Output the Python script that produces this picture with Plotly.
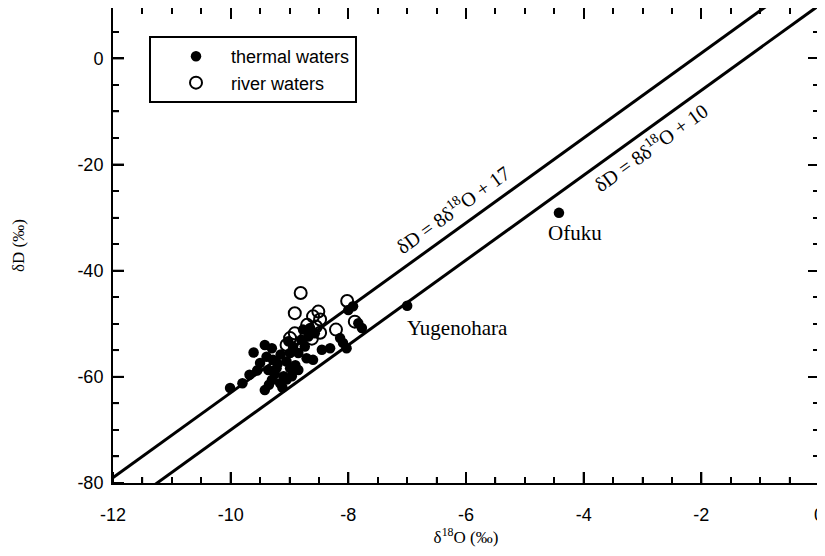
import plotly.graph_objects as go

# thermal waters (filled)
thermal_x = [-10.01, -9.80, -9.68, -9.61, -9.50, -9.42, -9.30, -9.39, -9.28, -9.36,
             -9.22, -9.30, -9.42, -9.16, -9.10, -9.05, -8.99, -8.94, -8.85, -8.74,
             -8.68, -8.65, -8.57, -8.71, -8.60, -8.85, -8.96, -8.99, -8.45, -8.31,
             -8.14, -8.09, -8.03, -8.00, -7.92, -7.83, -7.77, -8.77, -9.02, -9.20,
             -9.12, -9.25, -9.35, -9.05, -8.90, -9.55, -9.15, -8.80,
             -7.00, -4.42]
thermal_y = [-62.1, -61.2, -59.6, -55.4, -57.4, -54.0, -54.6, -56.2, -56.8, -58.7,
             -58.4, -60.6, -62.5, -61.2, -59.9, -57.1, -55.5, -54.3, -55.5, -54.3,
             -52.4, -50.8, -51.8, -56.5, -56.8, -58.7, -59.9, -58.4, -54.9, -54.6,
             -52.7, -53.6, -54.6, -47.4, -46.7, -49.9, -50.8, -51.1, -53.3, -57.5,
             -62.0, -59.5, -61.5, -60.5, -57.8, -58.8, -55.8, -53.0,
             -46.6, -29.1]

# river waters (open)
river_x = [-8.81, -8.91, -8.02, -8.51, -8.60, -8.48, -8.91, -8.99, -8.21, -7.89,
           -8.48, -8.55, -9.05, -8.70, -8.62]
river_y = [-44.2, -48.0, -45.7, -47.7, -48.6, -49.2, -51.8, -52.7, -51.1, -49.6,
           -51.7, -50.5, -54.0, -50.2, -52.8]

# meteoric water lines: dD = slope * d18O + intercept
line_slopes = [8, 8]
line_intercepts = [17, 10]
line_labels = ["δD = 8δ<sup>18</sup>O + 17", "δD = 8δ<sup>18</sup>O + 10"]
line_label_pos = [(-6.24, -28.3), (-2.88, -16.6)]

# named points
site_names = ["Yugenohara", "Ofuku"]
site_label_pos = [(-6.15, -50.8), (-4.15, -32.8)]

x_range = [-12, 0]
y_range = [-80, 9.5]
x_tickvals = [-12, -10, -8, -6, -4, -2, 0]
x_ticktext = ["-12", "-10", "-8", "-6", "-4", "-2", "0"]
y_tickvals = [-80, -60, -40, -20, 0]
y_ticktext = ["-80", "-60", "-40", "-20", "0"]
x_minor_step = 0.5
y_minor_step = 5

fig = go.Figure()

for s, b in zip(line_slopes, line_intercepts):
    xs = [-12.5, 0.5]
    fig.add_trace(go.Scatter(x=xs, y=[s * v + b for v in xs], mode="lines",
                             line=dict(color="black", width=3), showlegend=False,
                             hoverinfo="skip"))

fig.add_trace(go.Scatter(x=thermal_x, y=thermal_y, mode="markers", name="thermal waters",
                         marker=dict(symbol="circle", size=10.5, color="black")))
fig.add_trace(go.Scatter(x=river_x, y=river_y, mode="markers", name="river waters",
                         marker=dict(symbol="circle-open", size=12, color="black",
                                     line=dict(width=2, color="black"))))

serif = "Liberation Serif, Times New Roman, serif"
sans = "Liberation Sans, Arial, sans-serif"

for txt, (ax, ay) in zip(line_labels, line_label_pos):
    fig.add_annotation(x=ax, y=ay, text=txt, showarrow=False, textangle=-35.8,
                       font=dict(family=serif, size=20, color="black"))

for txt, (ax, ay) in zip(site_names, site_label_pos):
    fig.add_annotation(x=ax, y=ay, text=txt, showarrow=False,
                       font=dict(family=serif, size=21, color="black"))

axis_common = dict(showline=True, linewidth=2, linecolor="black", mirror="allticks",
                   ticks="inside", ticklen=11, tickwidth=2, tickcolor="#000000",
                   showgrid=False, zeroline=False, automargin=False,
                   tickfont=dict(family=sans, size=18, color="black"))
x_minor = dict(dtick=x_minor_step, tick0=0, ticks="inside", ticklen=6, tickwidth=1.5,
               tickcolor="#000000")
y_minor = dict(dtick=y_minor_step, tick0=0, ticks="inside", ticklen=6, tickwidth=1.5,
               tickcolor="#000000")

fig.update_layout(
    xaxis=dict(range=x_range, tickvals=x_tickvals, ticktext=x_ticktext,
               ticklabelstandoff=14, minor=x_minor,
               title=dict(text="δ<sup>18</sup>O (‰)", standoff=4,
                          font=dict(family=serif, size=17, color="black")),
               **axis_common),
    yaxis=dict(range=y_range, tickvals=y_tickvals, ticktext=y_ticktext,
               ticklabelstandoff=4, minor=y_minor,
               title=dict(text="δD (‰)", standoff=48,
                          font=dict(family=serif, size=17, color="black")),
               **axis_common),
)

# inward ticks on the bottom and left edges, placed at the axis tick values
W, H = 817, 548
M = dict(l=105, r=6, t=0, b=73)
plot_w = W - M["l"] - M["r"]
plot_h = H - M["t"] - M["b"]
major_len, minor_len = 11, 6

n_xminor = int(round((x_range[1] - x_range[0]) / x_minor_step))
for i in range(n_xminor + 1):
    v = x_range[0] + i * x_minor_step
    is_major = any(abs(v - t) < 1e-9 for t in x_tickvals)
    ln = major_len if is_major else minor_len
    fig.add_shape(type="line", xref="x", yref="y domain", x0=v, x1=v,
                  y0=0, y1=ln / plot_h, layer="above",
                  line=dict(color="black", width=2 if is_major else 1.5))

n_yminor = int((y_range[1] - y_range[0]) // y_minor_step)
for i in range(n_yminor + 1):
    v = y_range[0] + i * y_minor_step
    is_major = any(abs(v - t) < 1e-9 for t in y_tickvals)
    ln = major_len if is_major else minor_len
    fig.add_shape(type="line", xref="x domain", yref="y", y0=v, y1=v,
                  x0=0, x1=ln / plot_w, layer="above",
                  line=dict(color="black", width=2 if is_major else 1.5))

fig.update_layout(
    width=W, height=H,
    margin=M,
    plot_bgcolor="white", paper_bgcolor="white",
    legend=dict(x=0.051, y=0.941, xanchor="left", yanchor="top",
                bordercolor="black", borderwidth=2, bgcolor="white",
                font=dict(family=sans, size=18, color="black"),
                itemwidth=60, indentation=10, tracegroupgap=0),
)

fig.write_html("out.html")
